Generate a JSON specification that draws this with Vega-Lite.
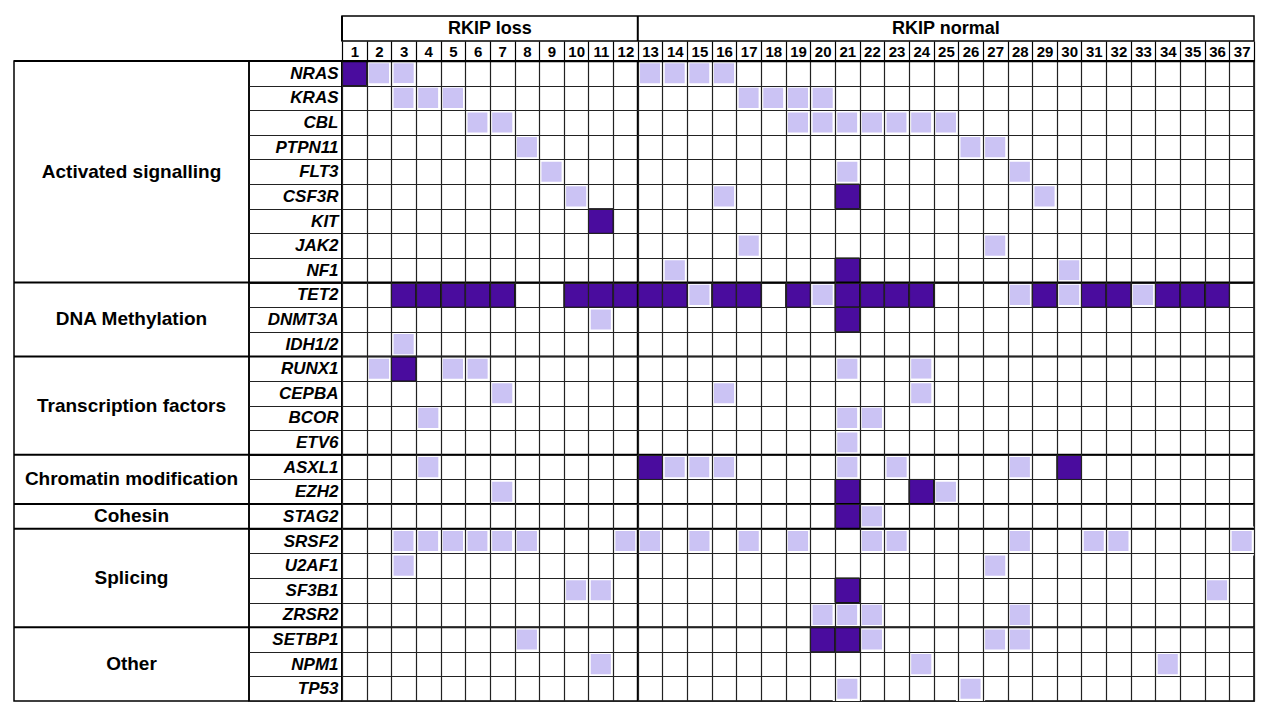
{
  "$schema": "https://vega.github.io/schema/vega-lite/v6.json",
  "padding": {"left": 12, "top": 14, "right": 10, "bottom": 5},
  "background": "white",
  "bounds": "flush",
  "columns": 3,
  "spacing": {"row": 20, "column": 0},
  "config": {
    "font": "Liberation Sans",
    "view": {"stroke": "black", "strokeWidth": 1.5},
    "axis": {"labelFont": "Liberation Sans", "labelColor": "black"}
  },
  "datasets": {
    "genes": [
      {"gene": "NRAS", "cat": "Activated signalling", "order": 1},
      {"gene": "KRAS", "cat": "Activated signalling", "order": 2},
      {"gene": "CBL", "cat": "Activated signalling", "order": 3},
      {"gene": "PTPN11", "cat": "Activated signalling", "order": 4},
      {"gene": "FLT3", "cat": "Activated signalling", "order": 5},
      {"gene": "CSF3R", "cat": "Activated signalling", "order": 6},
      {"gene": "KIT", "cat": "Activated signalling", "order": 7},
      {"gene": "JAK2", "cat": "Activated signalling", "order": 8},
      {"gene": "NF1", "cat": "Activated signalling", "order": 9},
      {"gene": "TET2", "cat": "DNA Methylation", "order": 10},
      {"gene": "DNMT3A", "cat": "DNA Methylation", "order": 11},
      {"gene": "IDH1/2", "cat": "DNA Methylation", "order": 12},
      {"gene": "RUNX1", "cat": "Transcription factors", "order": 13},
      {"gene": "CEPBA", "cat": "Transcription factors", "order": 14},
      {"gene": "BCOR", "cat": "Transcription factors", "order": 15},
      {"gene": "ETV6", "cat": "Transcription factors", "order": 16},
      {"gene": "ASXL1", "cat": "Chromatin modification", "order": 17},
      {"gene": "EZH2", "cat": "Chromatin modification", "order": 18},
      {"gene": "STAG2", "cat": "Cohesin", "order": 19},
      {"gene": "SRSF2", "cat": "Splicing", "order": 20},
      {"gene": "U2AF1", "cat": "Splicing", "order": 21},
      {"gene": "SF3B1", "cat": "Splicing", "order": 22},
      {"gene": "ZRSR2", "cat": "Splicing", "order": 23},
      {"gene": "SETBP1", "cat": "Other", "order": 24},
      {"gene": "NPM1", "cat": "Other", "order": 25},
      {"gene": "TP53", "cat": "Other", "order": 26}
    ],
    "patients": [
      {"p": 1, "grp": "RKIP loss"}, {"p": 2, "grp": "RKIP loss"}, {"p": 3, "grp": "RKIP loss"},
      {"p": 4, "grp": "RKIP loss"}, {"p": 5, "grp": "RKIP loss"}, {"p": 6, "grp": "RKIP loss"},
      {"p": 7, "grp": "RKIP loss"}, {"p": 8, "grp": "RKIP loss"}, {"p": 9, "grp": "RKIP loss"},
      {"p": 10, "grp": "RKIP loss"}, {"p": 11, "grp": "RKIP loss"}, {"p": 12, "grp": "RKIP loss"},
      {"p": 13, "grp": "RKIP normal"}, {"p": 14, "grp": "RKIP normal"}, {"p": 15, "grp": "RKIP normal"},
      {"p": 16, "grp": "RKIP normal"}, {"p": 17, "grp": "RKIP normal"}, {"p": 18, "grp": "RKIP normal"},
      {"p": 19, "grp": "RKIP normal"}, {"p": 20, "grp": "RKIP normal"}, {"p": 21, "grp": "RKIP normal"},
      {"p": 22, "grp": "RKIP normal"}, {"p": 23, "grp": "RKIP normal"}, {"p": 24, "grp": "RKIP normal"},
      {"p": 25, "grp": "RKIP normal"}, {"p": 26, "grp": "RKIP normal"}, {"p": 27, "grp": "RKIP normal"},
      {"p": 28, "grp": "RKIP normal"}, {"p": 29, "grp": "RKIP normal"}, {"p": 30, "grp": "RKIP normal"},
      {"p": 31, "grp": "RKIP normal"}, {"p": 32, "grp": "RKIP normal"}, {"p": 33, "grp": "RKIP normal"},
      {"p": 34, "grp": "RKIP normal"}, {"p": 35, "grp": "RKIP normal"}, {"p": 36, "grp": "RKIP normal"},
      {"p": 37, "grp": "RKIP normal"}
    ],
    "muts": [
      {"gene": "NRAS", "p": 1, "grade": "high"}, {"gene": "NRAS", "p": 2, "grade": "low"}, {"gene": "NRAS", "p": 3, "grade": "low"},
      {"gene": "NRAS", "p": 13, "grade": "low"}, {"gene": "NRAS", "p": 14, "grade": "low"}, {"gene": "NRAS", "p": 15, "grade": "low"}, {"gene": "NRAS", "p": 16, "grade": "low"},
      {"gene": "KRAS", "p": 3, "grade": "low"}, {"gene": "KRAS", "p": 4, "grade": "low"}, {"gene": "KRAS", "p": 5, "grade": "low"},
      {"gene": "KRAS", "p": 17, "grade": "low"}, {"gene": "KRAS", "p": 18, "grade": "low"}, {"gene": "KRAS", "p": 19, "grade": "low"}, {"gene": "KRAS", "p": 20, "grade": "low"},
      {"gene": "CBL", "p": 6, "grade": "low"}, {"gene": "CBL", "p": 7, "grade": "low"}, {"gene": "CBL", "p": 19, "grade": "low"},
      {"gene": "CBL", "p": 20, "grade": "low"}, {"gene": "CBL", "p": 21, "grade": "low"}, {"gene": "CBL", "p": 22, "grade": "low"},
      {"gene": "CBL", "p": 23, "grade": "low"}, {"gene": "CBL", "p": 24, "grade": "low"}, {"gene": "CBL", "p": 25, "grade": "low"},
      {"gene": "PTPN11", "p": 8, "grade": "low"}, {"gene": "PTPN11", "p": 26, "grade": "low"}, {"gene": "PTPN11", "p": 27, "grade": "low"},
      {"gene": "FLT3", "p": 9, "grade": "low"}, {"gene": "FLT3", "p": 21, "grade": "low"}, {"gene": "FLT3", "p": 28, "grade": "low"},
      {"gene": "CSF3R", "p": 10, "grade": "low"}, {"gene": "CSF3R", "p": 16, "grade": "low"}, {"gene": "CSF3R", "p": 21, "grade": "high"}, {"gene": "CSF3R", "p": 29, "grade": "low"},
      {"gene": "KIT", "p": 11, "grade": "high"},
      {"gene": "JAK2", "p": 17, "grade": "low"}, {"gene": "JAK2", "p": 27, "grade": "low"},
      {"gene": "NF1", "p": 14, "grade": "low"}, {"gene": "NF1", "p": 21, "grade": "high"}, {"gene": "NF1", "p": 30, "grade": "low"},
      {"gene": "TET2", "p": 3, "grade": "high"}, {"gene": "TET2", "p": 4, "grade": "high"}, {"gene": "TET2", "p": 5, "grade": "high"},
      {"gene": "TET2", "p": 6, "grade": "high"}, {"gene": "TET2", "p": 7, "grade": "high"}, {"gene": "TET2", "p": 10, "grade": "high"},
      {"gene": "TET2", "p": 11, "grade": "high"}, {"gene": "TET2", "p": 12, "grade": "high"}, {"gene": "TET2", "p": 13, "grade": "high"},
      {"gene": "TET2", "p": 14, "grade": "high"}, {"gene": "TET2", "p": 15, "grade": "low"}, {"gene": "TET2", "p": 16, "grade": "high"},
      {"gene": "TET2", "p": 17, "grade": "high"}, {"gene": "TET2", "p": 19, "grade": "high"}, {"gene": "TET2", "p": 20, "grade": "low"},
      {"gene": "TET2", "p": 21, "grade": "high"}, {"gene": "TET2", "p": 22, "grade": "high"}, {"gene": "TET2", "p": 23, "grade": "high"},
      {"gene": "TET2", "p": 24, "grade": "high"}, {"gene": "TET2", "p": 28, "grade": "low"}, {"gene": "TET2", "p": 29, "grade": "high"},
      {"gene": "TET2", "p": 30, "grade": "low"}, {"gene": "TET2", "p": 31, "grade": "high"}, {"gene": "TET2", "p": 32, "grade": "high"},
      {"gene": "TET2", "p": 33, "grade": "low"}, {"gene": "TET2", "p": 34, "grade": "high"}, {"gene": "TET2", "p": 35, "grade": "high"},
      {"gene": "TET2", "p": 36, "grade": "high"},
      {"gene": "DNMT3A", "p": 11, "grade": "low"}, {"gene": "DNMT3A", "p": 21, "grade": "high"},
      {"gene": "IDH1/2", "p": 3, "grade": "low"},
      {"gene": "RUNX1", "p": 2, "grade": "low"}, {"gene": "RUNX1", "p": 3, "grade": "high"}, {"gene": "RUNX1", "p": 5, "grade": "low"},
      {"gene": "RUNX1", "p": 6, "grade": "low"}, {"gene": "RUNX1", "p": 21, "grade": "low"}, {"gene": "RUNX1", "p": 24, "grade": "low"},
      {"gene": "CEPBA", "p": 7, "grade": "low"}, {"gene": "CEPBA", "p": 16, "grade": "low"}, {"gene": "CEPBA", "p": 24, "grade": "low"},
      {"gene": "BCOR", "p": 4, "grade": "low"}, {"gene": "BCOR", "p": 21, "grade": "low"}, {"gene": "BCOR", "p": 22, "grade": "low"},
      {"gene": "ETV6", "p": 21, "grade": "low"},
      {"gene": "ASXL1", "p": 4, "grade": "low"}, {"gene": "ASXL1", "p": 13, "grade": "high"}, {"gene": "ASXL1", "p": 14, "grade": "low"},
      {"gene": "ASXL1", "p": 15, "grade": "low"}, {"gene": "ASXL1", "p": 16, "grade": "low"}, {"gene": "ASXL1", "p": 21, "grade": "low"},
      {"gene": "ASXL1", "p": 23, "grade": "low"}, {"gene": "ASXL1", "p": 28, "grade": "low"}, {"gene": "ASXL1", "p": 30, "grade": "high"},
      {"gene": "EZH2", "p": 7, "grade": "low"}, {"gene": "EZH2", "p": 21, "grade": "high"}, {"gene": "EZH2", "p": 24, "grade": "high"}, {"gene": "EZH2", "p": 25, "grade": "low"},
      {"gene": "STAG2", "p": 21, "grade": "high"}, {"gene": "STAG2", "p": 22, "grade": "low"},
      {"gene": "SRSF2", "p": 3, "grade": "low"}, {"gene": "SRSF2", "p": 4, "grade": "low"}, {"gene": "SRSF2", "p": 5, "grade": "low"},
      {"gene": "SRSF2", "p": 6, "grade": "low"}, {"gene": "SRSF2", "p": 7, "grade": "low"}, {"gene": "SRSF2", "p": 8, "grade": "low"},
      {"gene": "SRSF2", "p": 12, "grade": "low"}, {"gene": "SRSF2", "p": 13, "grade": "low"}, {"gene": "SRSF2", "p": 15, "grade": "low"},
      {"gene": "SRSF2", "p": 17, "grade": "low"}, {"gene": "SRSF2", "p": 19, "grade": "low"}, {"gene": "SRSF2", "p": 22, "grade": "low"},
      {"gene": "SRSF2", "p": 23, "grade": "low"}, {"gene": "SRSF2", "p": 28, "grade": "low"}, {"gene": "SRSF2", "p": 31, "grade": "low"},
      {"gene": "SRSF2", "p": 32, "grade": "low"}, {"gene": "SRSF2", "p": 37, "grade": "low"},
      {"gene": "U2AF1", "p": 3, "grade": "low"}, {"gene": "U2AF1", "p": 27, "grade": "low"},
      {"gene": "SF3B1", "p": 10, "grade": "low"}, {"gene": "SF3B1", "p": 11, "grade": "low"}, {"gene": "SF3B1", "p": 21, "grade": "high"}, {"gene": "SF3B1", "p": 36, "grade": "low"},
      {"gene": "ZRSR2", "p": 20, "grade": "low"}, {"gene": "ZRSR2", "p": 21, "grade": "low"}, {"gene": "ZRSR2", "p": 22, "grade": "low"}, {"gene": "ZRSR2", "p": 28, "grade": "low"},
      {"gene": "SETBP1", "p": 8, "grade": "low"}, {"gene": "SETBP1", "p": 20, "grade": "high"}, {"gene": "SETBP1", "p": 21, "grade": "high"},
      {"gene": "SETBP1", "p": 22, "grade": "low"}, {"gene": "SETBP1", "p": 27, "grade": "low"}, {"gene": "SETBP1", "p": 28, "grade": "low"},
      {"gene": "NPM1", "p": 11, "grade": "low"}, {"gene": "NPM1", "p": 24, "grade": "low"}, {"gene": "NPM1", "p": 34, "grade": "low"},
      {"gene": "TP53", "p": 21, "grade": "low"}, {"gene": "TP53", "p": 26, "grade": "low"}
    ]
  },
  "concat": [
    {
      "width": 235, "height": 25,
      "view": {"stroke": null},
      "data": {"values": [{"t": ""}]},
      "mark": {"type": "text"},
      "encoding": {"text": {"field": "t"}}
    },
    {
      "width": 93, "height": 25,
      "view": {"stroke": null},
      "data": {"values": [{"t": ""}]},
      "mark": {"type": "text"},
      "encoding": {"text": {"field": "t"}}
    },
    {
      "width": 912, "height": 25,
      "layer": [
        {
          "data": {"name": "patients"},
          "transform": [
            {"joinaggregate": [{"op": "min", "field": "p", "as": "firstP"}], "groupby": ["grp"]},
            {"filter": "datum.p === datum.firstP"}
          ],
          "mark": {"type": "rule", "color": "black", "strokeWidth": 2},
          "encoding": {
            "x": {"field": "p", "type": "ordinal", "bandPosition": 0,
                  "scale": {"domain": [1,2,3,4,5,6,7,8,9,10,11,12,13,14,15,16,17,18,19,20,21,22,23,24,25,26,27,28,29,30,31,32,33,34,35,36,37], "paddingInner": 0, "paddingOuter": 0},
                  "axis": null}
          }
        },
        {
          "data": {"name": "patients"},
          "mark": {"type": "text", "font": "Liberation Sans", "fontSize": 18, "fontWeight": "bold", "color": "black"},
          "encoding": {
            "x": {"aggregate": "mean", "field": "p", "type": "quantitative",
                  "scale": {"domain": [0.5, 37.5], "nice": false, "zero": false}, "axis": null},
            "text": {"field": "grp"}
          }
        }
      ],
      "resolve": {"scale": {"x": "independent"}}
    },
    {
      "width": 235, "height": 640,
      "layer": [
        {
          "data": {"name": "genes"},
          "transform": [
            {"joinaggregate": [{"op": "min", "field": "order", "as": "firstO"}], "groupby": ["cat"]},
            {"filter": "datum.order === datum.firstO"}
          ],
          "mark": {"type": "rule", "color": "black", "strokeWidth": 2},
          "encoding": {
            "y": {"field": "gene", "type": "nominal", "bandPosition": 0,
                  "scale": {"domain": ["NRAS","KRAS","CBL","PTPN11","FLT3","CSF3R","KIT","JAK2","NF1","TET2","DNMT3A","IDH1/2","RUNX1","CEPBA","BCOR","ETV6","ASXL1","EZH2","STAG2","SRSF2","U2AF1","SF3B1","ZRSR2","SETBP1","NPM1","TP53"], "paddingInner": 0, "paddingOuter": 0},
                  "axis": null}
          }
        },
        {
          "data": {"name": "genes"},
          "mark": {"type": "text", "font": "Liberation Sans", "fontSize": 19, "fontWeight": "bold", "color": "black"},
          "encoding": {
            "y": {"aggregate": "mean", "field": "order", "type": "quantitative",
                  "scale": {"domain": [0.5, 26.5], "reverse": true, "nice": false, "zero": false}, "axis": null},
            "text": {"field": "cat"}
          }
        }
      ],
      "resolve": {"scale": {"y": "independent"}}
    },
    {
      "width": 93, "height": 640,
      "data": {"name": "genes"},
      "transform": [
        {"joinaggregate": [{"op": "min", "field": "order", "as": "firstO"}], "groupby": ["cat"]},
        {"filter": "datum.order === datum.firstO"}
      ],
      "mark": {"type": "rule", "color": "black", "strokeWidth": 2},
      "encoding": {
        "y": {"field": "gene", "type": "nominal", "bandPosition": 0,
              "scale": {"domain": ["NRAS","KRAS","CBL","PTPN11","FLT3","CSF3R","KIT","JAK2","NF1","TET2","DNMT3A","IDH1/2","RUNX1","CEPBA","BCOR","ETV6","ASXL1","EZH2","STAG2","SRSF2","U2AF1","SF3B1","ZRSR2","SETBP1","NPM1","TP53"], "paddingInner": 0, "paddingOuter": 0},
              "axis": {"orient": "right", "title": null, "ticks": false, "domain": false,
                       "labelAlign": "right", "labelPadding": -4, "labelFontSize": 17,
                       "labelFontWeight": "bold", "labelFontStyle": "italic", "labelColor": "black",
                       "labelOverlap": false, "grid": true, "tickBand": "extent",
                       "gridColor": "#222", "gridOpacity": 1, "gridWidth": 1.2}}
      }
    },
    {
      "width": 912, "height": 640,
      "layer": [
        {
          "data": {"name": "muts"},
          "transform": [{"filter": "datum.grade === 'low'"}],
          "mark": {"type": "rect", "stroke": "white", "strokeWidth": 4.5},
          "encoding": {
            "x": {"field": "p", "type": "ordinal",
                  "scale": {"domain": [1,2,3,4,5,6,7,8,9,10,11,12,13,14,15,16,17,18,19,20,21,22,23,24,25,26,27,28,29,30,31,32,33,34,35,36,37], "paddingInner": 0, "paddingOuter": 0},
                  "axis": {"orient": "top", "title": null, "labelAngle": 0, "tickBand": "extent",
                           "tickSize": 20, "tickColor": "black", "tickWidth": 1.2,
                           "labelPadding": -10, "labelBaseline": "middle", "labelFontSize": 15,
                           "labelFontWeight": "bold", "labelColor": "black", "labelOverlap": false,
                           "domainColor": "black", "domainWidth": 1.5,
                           "grid": true, "gridColor": "#222", "gridOpacity": 1, "gridWidth": 1.2, "zindex": 1}},
            "y": {"field": "gene", "type": "nominal",
                  "scale": {"domain": ["NRAS","KRAS","CBL","PTPN11","FLT3","CSF3R","KIT","JAK2","NF1","TET2","DNMT3A","IDH1/2","RUNX1","CEPBA","BCOR","ETV6","ASXL1","EZH2","STAG2","SRSF2","U2AF1","SF3B1","ZRSR2","SETBP1","NPM1","TP53"], "paddingInner": 0, "paddingOuter": 0},
                  "axis": {"title": null, "labels": false, "ticks": false, "domain": false,
                           "grid": true, "tickBand": "extent", "gridColor": "#222", "gridOpacity": 1, "gridWidth": 1.2, "zindex": 1}},
            "color": {"field": "grade", "type": "nominal",
                      "scale": {"domain": ["high", "low"], "range": ["#4a0c9e", "#cbc3f4"]}, "legend": null}
          }
        },
        {
          "data": {"name": "muts"},
          "transform": [{"filter": "datum.grade === 'high'"}],
          "mark": {"type": "rect", "stroke": "#111", "strokeWidth": 1},
          "encoding": {
            "x": {"field": "p", "type": "ordinal"},
            "y": {"field": "gene", "type": "nominal"},
            "color": {"field": "grade", "type": "nominal"}
          }
        },
        {
          "data": {"name": "patients"},
          "transform": [
            {"joinaggregate": [{"op": "min", "field": "p", "as": "firstP"}], "groupby": ["grp"]},
            {"filter": "datum.p === datum.firstP"}
          ],
          "mark": {"type": "rule", "color": "black", "strokeWidth": 2},
          "encoding": {"x": {"field": "p", "type": "ordinal", "bandPosition": 0}}
        },
        {
          "data": {"name": "genes"},
          "transform": [
            {"joinaggregate": [{"op": "min", "field": "order", "as": "firstO"}], "groupby": ["cat"]},
            {"filter": "datum.order === datum.firstO"}
          ],
          "mark": {"type": "rule", "color": "black", "strokeWidth": 2},
          "encoding": {"y": {"field": "gene", "type": "nominal", "bandPosition": 0}}
        }
      ]
    }
  ]
}
